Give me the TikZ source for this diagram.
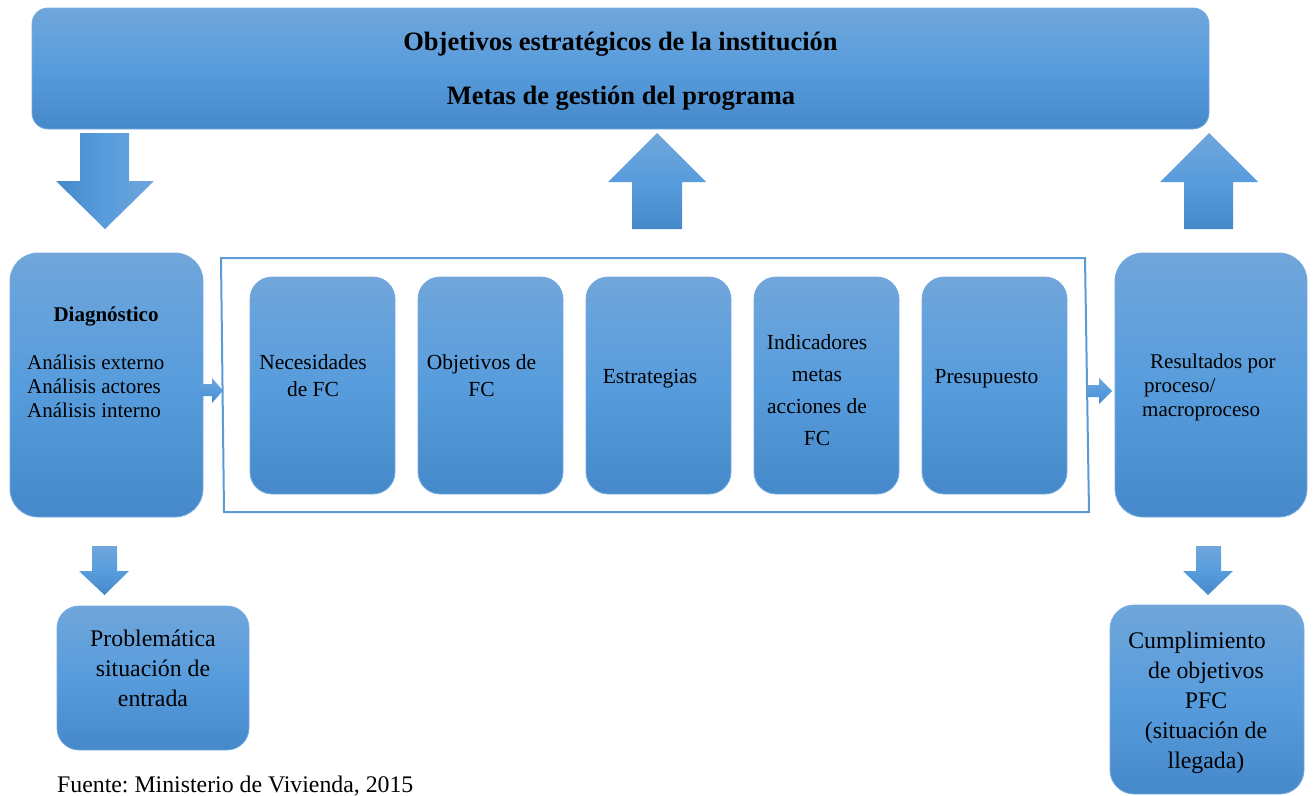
\documentclass[tikz,border=0pt]{standalone}
\usepackage{fontspec}
\setmainfont{Liberation Serif}
\frenchspacing
\begin{document}
\begin{tikzpicture}[x=1pt,y=-1pt,
  bx/.style={rounded corners=#1, top color=btop, bottom color=bbot, middle color=bmid, draw=bedge, line width=0.8pt, inner sep=0pt},
  bx/.default=24pt,
  upfill/.style={top color=btop, bottom color=bbot, middle color=bmid},
  txt/.style={align=center, inner sep=0pt, text=black},
  ftop/.style={font=\bfseries\fontsize{26.5}{32}\selectfont},
  fin/.style={font=\fontsize{21.5}{27}\selectfont},
  fsm/.style={font=\fontsize{21}{24}\selectfont},
  fbig/.style={font=\fontsize{23.8}{30}\selectfont},
  frame/.style={draw=framec, line width=2pt, line join=miter}
]
\definecolor{btop}{HTML}{70A6DB}
\definecolor{bmid}{HTML}{579CDC}
\definecolor{bbot}{HTML}{4689CA}
\definecolor{bedge}{HTML}{76ABDE}
\definecolor{framec}{HTML}{5B9BD5}
\useasboundingbox (0,0) rectangle (1314,795);

% top banner
\node[bx=16pt, minimum width=1177pt, minimum height=121pt] (top) at (620.5,68.5) {};
\node[txt, ftop] (t1) at (620.5,44) {Objetivos estratégicos de la institución};
\node[txt, ftop] (t2) at (621,98) {Metas de gestión del programa};

% block arrows from/to banner
\shade[left color=bbot, right color=btop, middle color=bmid]
  (80,133) -- (129,133) -- (129,181) -- (154,181) -- (105,229) -- (56,181) -- (80,181) -- cycle;
\shade[upfill]
  (657,133) -- (706,182) -- (682,182) -- (682,229) -- (632,229) -- (632,182) -- (608,182) -- cycle;
\shade[upfill]
  (1209,133) -- (1258,182) -- (1233,182) -- (1233,229) -- (1184,229) -- (1184,182) -- (1160,182) -- cycle;

% Diagnostico
\node[bx=28pt, minimum width=193pt, minimum height=264pt] (diag) at (106.5,385) {};
\node[txt, fsm, font=\bfseries\fontsize{21}{24}\selectfont] (diagt) at (106,317) {Diagnóstico};
\node[txt, fsm, align=left, anchor=west] (diaga) at (27,386) {Análisis externo\\Análisis actores\\Análisis interno};

% frame
\coordinate (f1) at (221,258);
\coordinate (f2) at (1085,258);
\coordinate (f3) at (1089,512);
\coordinate (f4) at (224,512);
\draw[frame] (f1) -- (f2) -- (f3) -- (f4) -- cycle;

% small right arrows
\shade[upfill]
  (200,384) -- (212,384) -- (212,378) -- (223,390.5) -- (212,403) -- (212,396) -- (200,396) -- cycle;
\shade[upfill]
  (1087,385) -- (1099,385) -- (1099,378) -- (1112,391) -- (1099,404) -- (1099,397) -- (1087,397) -- cycle;

% inner boxes
\node[bx=22pt, minimum width=145pt, minimum height=217pt] (b1) at (322.5,385.5) {};
\node[bx=22pt, minimum width=145pt, minimum height=217pt] (b2) at (490.5,385.5) {};
\node[bx=22pt, minimum width=145pt, minimum height=217pt] (b3) at (658.5,385.5) {};
\node[bx=22pt, minimum width=145pt, minimum height=217pt] (b4) at (826.5,385.5) {};
\node[bx=22pt, minimum width=145pt, minimum height=217pt] (b5) at (994.5,385.5) {};
\node[txt, fin] (b1t) at (313,375.5) {Necesidades\\de FC};
\node[txt, fin] (b2t) at (481.5,375.5) {Objetivos de\\FC};
\node[txt, fin] (b3t) at (650,379) {Estrategias};
\node[txt, fin, font=\fontsize{21.5}{32}\selectfont] (b4t) at (817,390.5) {Indicadores\\metas\\acciones de\\FC};
\node[txt, fin] (b5t) at (986.5,379) {Presupuesto};

% Resultados
\node[bx=28pt, minimum width=192pt, minimum height=264pt] (res) at (1211,385) {};
\node[txt, fsm, align=left, anchor=west] (rest) at (1142,387.5) {\kern8pt Resultados por\\\kern2pt proceso/\\macroproceso};

% bottom arrows
\shade[upfill]
  (92,546) -- (117,546) -- (117,571) -- (129,571) -- (104.5,595) -- (79,571) -- (92,571) -- cycle;
\shade[upfill]
  (1196,546) -- (1221,546) -- (1221,571) -- (1233,571) -- (1208,595) -- (1183,571) -- (1196,571) -- cycle;

% bottom boxes
\node[bx=22pt, minimum width=192pt, minimum height=144pt] (prob) at (153,678) {};
\node[txt, fbig] (probt) at (153,668) {Problemática\\situación de\\entrada};
\node[bx=24pt, minimum width=194pt, minimum height=189pt] (cump) at (1207,699.5) {};
\node[txt, fbig] (cumpt) at (1206,702.5) {Cumplimiento\kern18pt\\de objetivos\\PFC\\(situación de\\llegada)};

% source
\node[inner sep=0pt, anchor=base west, font=\fontsize{23.8}{28}\selectfont] (src) at (57,792) {Fuente: Ministerio de Vivienda, 2015};
\end{tikzpicture}
\end{document}
